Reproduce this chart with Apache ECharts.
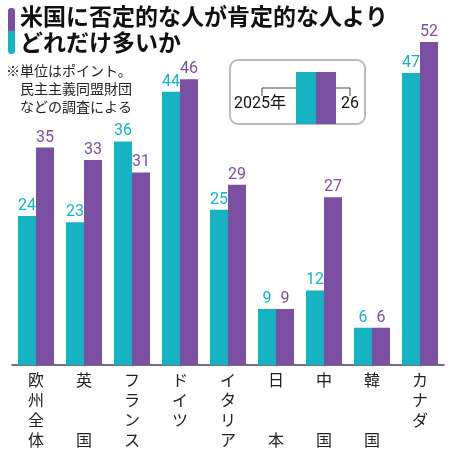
<!DOCTYPE html><html><head><meta charset="utf-8">
<script src="https://cdn.jsdelivr.net/npm/echarts@6/dist/echarts.min.js"></script>
<style>body{margin:0}#c{width:450px;height:450px}</style></head><body><div id="c"></div>
<script>
const categories=['欧\n州\n全\n体','英\n\n\n国','フ\nラ\nン\nス','ド\nイ\nツ','イ\nタ\nリ\nア','日\n\n\n本','中\n\n\n国','韓\n\n\n国','カ\nナ\nダ'];
const v2025=[24,23,36,44,25,9,12,6,47];
const v2026=[35,33,31,46,29,9,27,6,52];
const teal='#16b3c3',purple='#7b4fa2';
const lab=c=>({show:true,position:'top',color:c,fontSize:16,fontFamily:'Roboto',distance:2});
const font='Noto Sans CJK JP';
echarts.init(document.getElementById('c')).setOption({
animation:false,
grid:{left:12,right:6,top:42,bottom:84},
xAxis:{type:'category',data:categories,axisTick:{show:false},axisLine:{lineStyle:{color:'#444',width:1.5}},
 axisLabel:{fontFamily:font,fontSize:16,color:'#222',lineHeight:20,interval:0,margin:5,verticalAlign:'top'}},
yAxis:{type:'value',min:0,max:52,show:false},
series:[
{type:'bar',data:v2025,barWidth:18,barGap:'0%',itemStyle:{color:teal},label:lab(teal)},
{type:'bar',data:v2026,barWidth:18,itemStyle:{color:purple},label:lab(purple)}],
graphic:[
{type:'rect',shape:{x:8,y:8,width:7,height:23,r:[3,3,0,0]},style:{fill:purple}},
{type:'rect',shape:{x:8,y:31,width:7,height:23,r:[0,0,3,3]},style:{fill:teal}},
{type:'text',left:20,top:3,style:{text:'米国に否定的な人が肯定的な人より\nどれだけ多いか',font:'bold 23px "Noto Sans CJK JP"',lineHeight:26,fill:'#111'}},
{type:'text',left:6,top:62,style:{text:'※単位はポイント。\n　民主主義同盟財団\n　などの調査による',font:'14px "Noto Sans CJK JP"',lineHeight:18,fill:'#222'}},
{type:'rect',shape:{x:230,y:60,width:135,height:64,r:8},style:{fill:'#fff',stroke:'#bbb',lineWidth:2}},
{type:'rect',shape:{x:296,y:72,width:20,height:52},style:{fill:teal}},
{type:'rect',shape:{x:316,y:72,width:20,height:52},style:{fill:purple}},
{type:'polyline',shape:{points:[[262,96],[262,88],[296,88]]},style:{stroke:'#444',fill:null}},
{type:'polyline',shape:{points:[[336,88],[350,88],[350,96]]},style:{stroke:'#444',fill:null}},
{type:'text',left:234,top:96,style:{text:'2025年',font:'16px Roboto, "Noto Sans CJK JP"',fill:'#111'}},
{type:'text',left:341,top:96,style:{text:'26',font:'16px Roboto',fill:'#111'}}
]});
</script></body></html>
